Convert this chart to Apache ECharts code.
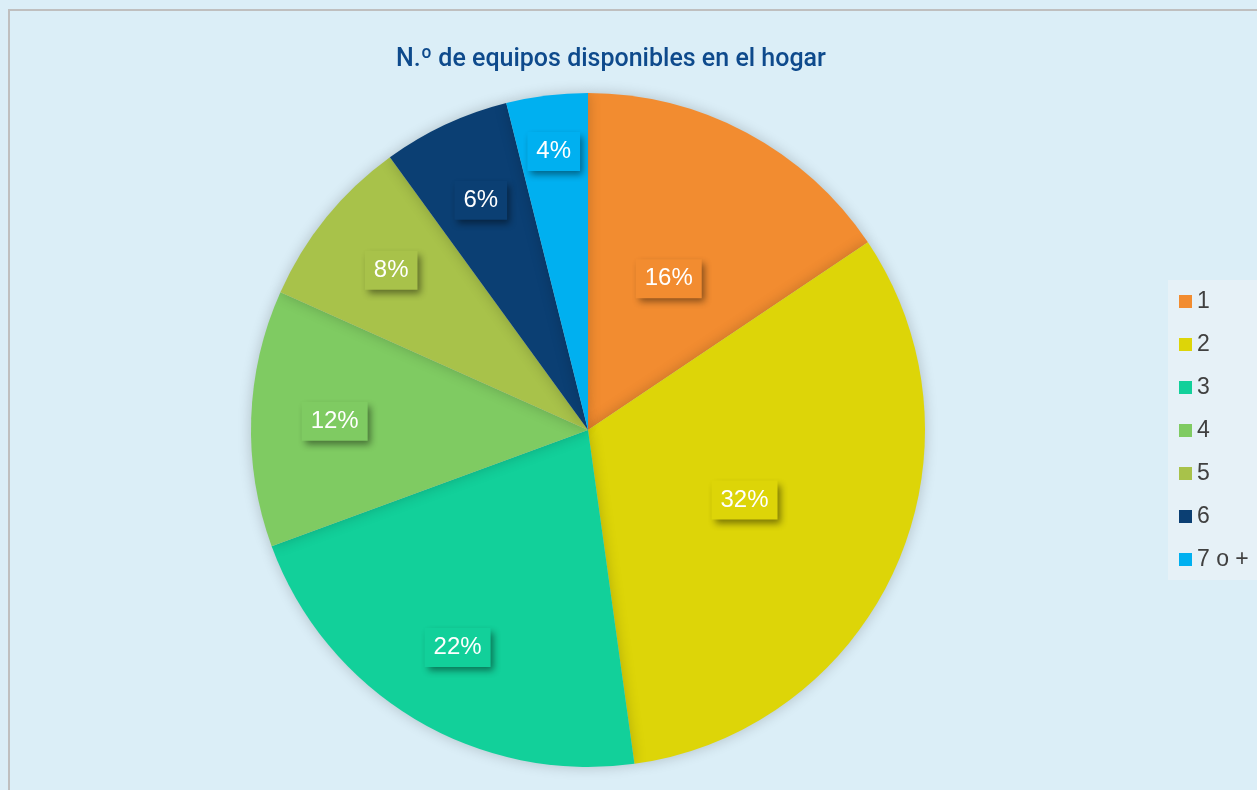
<!DOCTYPE html>
<html><head><meta charset="utf-8">
<script src="https://cdn.jsdelivr.net/npm/echarts@6/dist/echarts.min.js"></script>
<style>html,body{margin:0;padding:0;background:#DBEEF7;}#c{width:1257px;height:790px;}</style>
</head><body><div id="c"></div>
<script>
const categories = ['1', '2', '3', '4', '5', '6', '7 o +'];
const values = [15.6, 32.2, 21.6, 12.3, 8.3, 6.1, 3.9];
const colors = ['#F28C30', '#DDD508', '#12D09A', '#7FCB62', '#A8C24A', '#0B3F73', '#00B0F0'];
const titleText = 'N.º de equipos disponibles en el hogar';
// label ring per slice: 0 = middle of radius, 1 = further out, 2 = near the rim
const labelRing = [0, 0, 1, 1, 1, 1, 2];
const ringRadii = [[0, 337], [164, 337], [218, 337]];

const chart = echarts.init(document.getElementById('c'), null, {renderer: 'canvas'});
const FONT = 'Liberation Sans, Arial, sans-serif';
const labelStyle = (c) => ({
  show: true, position: 'inside', formatter: '{d}%', color: '#fff',
  fontFamily: FONT, fontSize: 24,
  backgroundColor: c, padding: [8, 9, 7, 9],
  shadowColor: 'rgba(0,0,0,0.45)', shadowBlur: 7, shadowOffsetX: 3, shadowOffsetY: 4
});
const mk = (ring) => categories.map((n, i) => ({
  name: n, value: values[i],
  itemStyle: {color: ring === 0 ? colors[i] : 'rgba(0,0,0,0)'},
  label: Object.assign(labelStyle(colors[i]), {show: labelRing[i] === ring})
}));
const series = ringRadii.map((r, k) => ({
  type: 'pie', center: [588, 430], radius: r, startAngle: 90, clockwise: true,
  percentPrecision: 0, labelLine: {show: false},
  silent: k > 0, legendHoverLink: k === 0,
  itemStyle: k === 0 ? {shadowColor: 'rgba(0,0,0,0.2)', shadowBlur: 14} : {color: 'rgba(0,0,0,0)'},
  label: {show: true, position: 'inside'},
  data: mk(k)
}));
chart.setOption({
  backgroundColor: '#DBEEF7',
  animation: false,
  title: {
    text: titleText, left: 391, top: 42,
    textStyle: {color: '#0E4A8C', fontSize: 25, fontWeight: 500, fontFamily: 'Roboto, sans-serif'}
  },
  legend: {
    orient: 'vertical', left: 1168, top: 280, padding: [10, 20, 9, 11],
    backgroundColor: '#E6F1F7', itemWidth: 13, itemHeight: 13, itemGap: 20,
    icon: 'rect', data: categories,
    textStyle: {color: '#404040', fontSize: 23, fontFamily: FONT}
  },
  graphic: [{
    type: 'rect', shape: {x: 9, y: 10, width: 1400, height: 900},
    style: {fill: 'none', stroke: '#BFBFBF', lineWidth: 2}, silent: true, z: 100
  }],
  series: series
});
</script></body></html>
